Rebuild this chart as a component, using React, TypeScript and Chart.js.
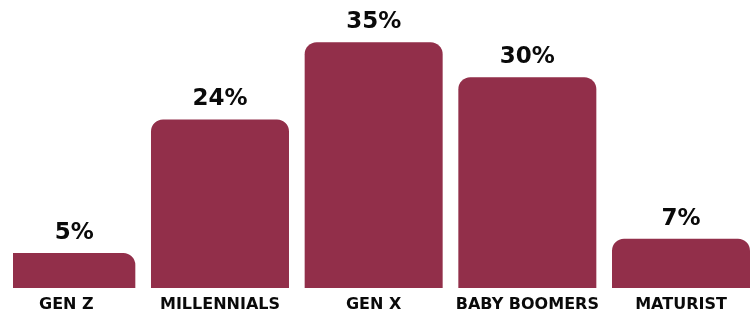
import React, { useEffect, useRef } from "react";
import { Chart, registerables } from "chart.js";

Chart.register(...registerables);

const categories = ["GEN Z", "MILLENNIALS", "GEN X", "BABY BOOMERS", "MATURIST"];
const shares = [5, 24, 35, 30, 7];
const xMin = -0.347;
const xMax = 4.462;
const yMax = 40;

const BAR_COLOR = "#922f4a";
const TEXT_COLOR = "#0a0a0a";
const FONT = "'DejaVu Sans', sans-serif";

const valueLabels = {
  id: "valueLabels",
  afterDatasetsDraw(chart: any) {
    const { ctx, chartArea } = chart;
    const meta = chart.getDatasetMeta(0);
    ctx.save();
    ctx.font = `bold 23px ${FONT}`;
    ctx.fillStyle = TEXT_COLOR;
    ctx.textAlign = "center";
    ctx.textBaseline = "alphabetic";
    meta.data.forEach((el: any, i: number) => {
      const half = el.width / 2;
      const left = Math.max(el.x - half, chartArea.left);
      const right = Math.min(el.x + half, chartArea.right);
      const cx = (left + right) / 2;
      ctx.fillText(`${shares[i]}%`, cx, el.y - 14);
    });
    ctx.restore();
  },
};

export default function App() {
  const ref = useRef<HTMLCanvasElement>(null);

  useEffect(() => {
    if (!ref.current) return;
    const chart = new Chart(ref.current, {
      type: "bar",
      data: {
        datasets: [
          {
            data: shares.map((v, i) => ({ x: i, y: v })),
            backgroundColor: BAR_COLOR,
            borderRadius: 12,
            borderSkipped: "bottom",
            barPercentage: 0.898,
            categoryPercentage: 1,
          },
        ],
      },
      options: {
        animation: false,
        responsive: false,
        layout: { padding: { top: 7, left: 13, right: 0, bottom: 0 } },
        plugins: { legend: { display: false }, tooltip: { enabled: false } },
        scales: {
          x: {
            type: "linear",
            offset: false,
            min: xMin,
            max: xMax,
            grid: { display: false, drawTicks: false, offset: false },
            border: { display: false },
            afterFit: (scale: any) => {
              scale.height = 24;
            },
            ticks: {
              stepSize: 1,
              includeBounds: false,
              autoSkip: false,
              maxRotation: 0,
              padding: 7,
              color: TEXT_COLOR,
              font: { family: FONT, weight: "bold", size: 16 },
              callback: (v: any) =>
                Number.isInteger(v) && categories[v] !== undefined ? categories[v] : "",
            },
          },
          y: {
            display: false,
            min: 0,
            max: yMax,
          },
        },
      },
      plugins: [valueLabels],
    });
    return () => chart.destroy();
  }, []);

  return (
    <div style={{ position: "fixed", left: 0, top: 0, width: 752, height: 312, background: "#fff" }}>
      <canvas ref={ref} width={752} height={312} style={{ display: "block" }} />
    </div>
  );
}
